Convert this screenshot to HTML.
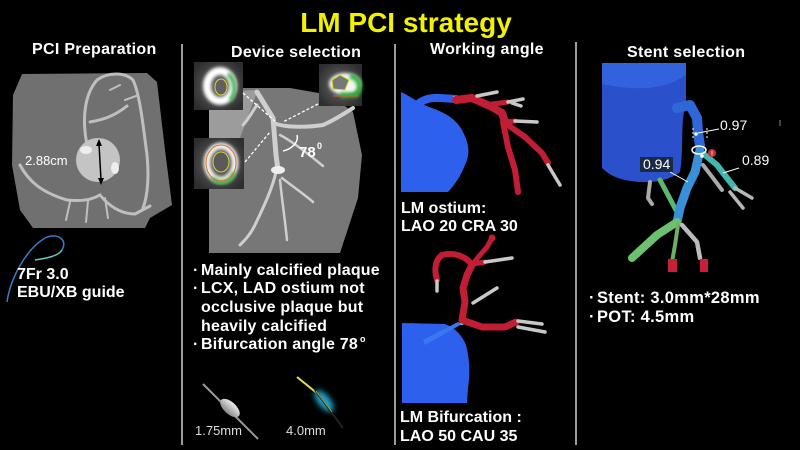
<!DOCTYPE html>
<html><head><meta charset="utf-8"><style>
html,body{margin:0;padding:0;background:#000;}
svg{display:block;}
text{font-family:"Liberation Sans",sans-serif;}
</style></head><body>
<svg width="800" height="450" viewBox="0 0 800 450" xmlns="http://www.w3.org/2000/svg">
<defs>
<filter id="bl" x="-30%" y="-30%" width="160%" height="160%"><feGaussianBlur stdDeviation="1.6"/></filter>
<filter id="bl2" x="-50%" y="-50%" width="200%" height="200%"><feGaussianBlur stdDeviation="3"/></filter>
<radialGradient id="ins" cx="50%" cy="50%" r="60%"><stop offset="0" stop-color="#6a6a6a"/><stop offset="1" stop-color="#2e2e2e"/></radialGradient>
<linearGradient id="bal" x1="0" y1="0" x2="0" y2="1"><stop offset="0" stop-color="#eee"/><stop offset="1" stop-color="#888"/></linearGradient>
</defs>
<rect width="800" height="450" fill="#000"/>

<!-- Title -->
<text x="406" y="32" text-anchor="middle" font-size="28" font-weight="bold" fill="#f2f200">LM PCI strategy</text>

<!-- Headers -->
<g font-size="16" font-weight="bold" fill="#fff" letter-spacing="0.3">
<text x="32" y="54">PCI Preparation</text>
<text x="231" y="57">Device selection</text>
<text x="430" y="54">Working angle</text>
<text x="627" y="57">Stent selection</text>
</g>

<!-- Dividers -->
<line x1="182" y1="44" x2="182" y2="445" stroke="#d0d0d0" stroke-width="1.5"/>
<line x1="395" y1="44" x2="395" y2="445" stroke="#d0d0d0" stroke-width="1.5"/>
<line x1="576" y1="42" x2="576" y2="445" stroke="#d0d0d0" stroke-width="1.5"/>

<!-- Column 1: CT -->
<polygon points="22,74 147,73 157,82 165,150 172,205 150,218 145,228 33,228 20,210 12,165 13,95" fill="#707070"/>
<g fill="none" stroke="#c8c8c8" stroke-width="3" stroke-linecap="round" opacity="0.9">
<path d="M87,145 C82,120 84,95 97,80 C108,72 125,72 133,80 C140,95 143,125 147,155 C149,175 148,195 143,208"/>
<path d="M20,165 C28,180 40,192 67,200 C85,202 95,198 100,195 C108,205 120,214 135,214 L150,206"/>
<path d="M90,122 C100,120 112,118 127,106"/>
<path d="M105,198 L108,218 M88,201 L86,222 M70,202 L66,220" stroke-width="2"/>
<path d="M110,90 L120,85 M125,100 L136,96" stroke-width="2"/>
</g>
<ellipse cx="98" cy="160" rx="22" ry="22" fill="#c4c4c4"/>
<ellipse cx="86" cy="150" rx="6" ry="4" fill="#eee"/>
<ellipse cx="115" cy="168" rx="4" ry="6" fill="#eee"/>
<line x1="99" y1="144" x2="101" y2="180" stroke="#000" stroke-width="1.5"/>
<polygon points="99,139 96,146 102,146" fill="#000"/>
<polygon points="101,185 98,178 104,178" fill="#000"/>
<text x="25" y="165" font-size="13" fill="#fff">2.88cm</text>

<!-- guide wire -->
<path d="M7,302 C10,280 25,250 45,238 C58,232 68,240 62,250" fill="none" stroke="#3a7cc8" stroke-width="1.5"/>
<path d="M62,250 C58,256 48,258 35,260" fill="none" stroke="#6cc8c0" stroke-width="1.5"/>
<text x="17" y="279" font-size="16" font-weight="bold" fill="#fff">7Fr 3.0</text>
<text x="17" y="297" font-size="16" font-weight="bold" fill="#fff">EBU/XB guide</text>

<!-- Column 2: CT -->
<polygon points="209,88 290,88 330,95 353,112 362,155 358,198 340,253 209,253" fill="#777"/>
<path d="M209,92 L258,90 C250,110 245,125 240,138 L209,138 Z" fill="#9c9c9c"/>
<g fill="none" stroke="#cfcfcf" stroke-linecap="round">
<path d="M257,92 L273,118 L276,155 L278,170" stroke-width="5"/>
<path d="M276,124 C290,128 310,127 323,125 C335,120 345,113 353,108" stroke-width="4"/>
<path d="M280,135 C290,140 310,155 323,166" stroke-width="2.5"/>
<path d="M257,105 C252,112 248,120 243,125" stroke-width="3"/>
<path d="M276,172 C272,190 262,210 255,225 C250,235 245,240 240,245" stroke-width="3"/>
<path d="M280,180 C282,200 285,220 287,240" stroke-width="2.5"/>
<path d="M282,178 C292,186 305,195 313,202" stroke-width="2.5"/>
</g>
<ellipse cx="278" cy="170" rx="7" ry="4" fill="#eee"/>
<!-- insets -->
<rect x="194" y="62" width="49" height="48" fill="url(#ins)"/>
<ellipse cx="220" cy="86" rx="13" ry="15" fill="none" stroke="#fff" stroke-width="8" filter="url(#bl)"/>
<path d="M228,74 C236,80 236,95 230,100" fill="none" stroke="#3cb050" stroke-width="4" filter="url(#bl)"/>
<ellipse cx="221" cy="87" rx="6" ry="8" fill="#606060" stroke="#d8d830" stroke-width="1"/>
<rect x="319" y="64" width="43" height="42" fill="url(#ins)"/>
<ellipse cx="345" cy="84" rx="16" ry="11" fill="#f4f4f4" filter="url(#bl)"/>
<path d="M350,76 C360,78 362,88 356,95 L340,95" fill="none" stroke="#30b040" stroke-width="5" filter="url(#bl)"/>
<polygon points="332,80 340,75 349,80 345,90 333,89" fill="#777" stroke="#e0e020" stroke-width="1"/>
<line x1="333" y1="96" x2="358" y2="96" stroke="#d06020" stroke-width="1"/>
<rect x="194" y="138" width="50" height="51" fill="url(#ins)"/>
<ellipse cx="221" cy="163" rx="14" ry="17" fill="none" stroke="#f0f0f0" stroke-width="7" filter="url(#bl)"/>
<path d="M212,178 C220,186 232,182 234,172" fill="none" stroke="#30b040" stroke-width="4" filter="url(#bl)"/>
<ellipse cx="221" cy="163" rx="15" ry="18" fill="none" stroke="#e07020" stroke-width="1"/>
<ellipse cx="221" cy="162" rx="8" ry="10" fill="#5a5a5a" stroke="#d8d830" stroke-width="1"/>
<!-- dashed lines -->
<g stroke="#fff" stroke-width="1.3" stroke-dasharray="3,2" fill="none">
<line x1="243" y1="93" x2="277" y2="123"/>
<line x1="318" y1="104" x2="283" y2="122"/>
<line x1="245" y1="162" x2="270" y2="132"/>
</g>
<path d="M297,135 C299,142 292,149 283,151" fill="none" stroke="#fff" stroke-width="1.5"/>
<text x="299" y="157" font-size="15" font-weight="bold" fill="#fff">78</text>
<text x="317" y="149" font-size="9" font-weight="bold" fill="#fff">0</text>

<!-- bullets col2 -->
<g font-size="16" font-weight="bold" fill="#fff" letter-spacing="0.2">
<text x="193" y="275">·</text><text x="201" y="275">Mainly calcified plaque</text>
<text x="193" y="293">·</text><text x="201" y="293">LCX, LAD ostium not</text>
<text x="201" y="312">occlusive plaque but</text>
<text x="201" y="331">heavily calcified</text>
<text x="193" y="349">·</text><text x="201" y="349">Bifurcation angle 78</text>
</g>
<text x="360" y="342" font-size="9" font-weight="bold" fill="#fff">o</text>

<!-- balloon & stent -->
<line x1="203" y1="384" x2="258" y2="439" stroke="#9a9a9a" stroke-width="2"/>
<ellipse cx="230" cy="408" rx="12" ry="6" transform="rotate(42 230 408)" fill="url(#bal)"/>
<text x="195" y="435" font-size="13" fill="#ddd">1.75mm</text>
<line x1="297" y1="377" x2="318" y2="394" stroke="#e8e040" stroke-width="2"/>
<ellipse cx="324" cy="401" rx="13" ry="6" transform="rotate(50 324 401)" fill="#20a8d0" filter="url(#bl2)"/>
<line x1="315" y1="390" x2="343" y2="428" stroke="#222" stroke-width="2"/>
<line x1="316" y1="391" x2="332" y2="412" stroke="#e8e040" stroke-width="1" opacity="0.7"/>
<text x="286" y="435" font-size="13" fill="#ddd">4.0mm</text>

<!-- Column 3 upper -->
<path d="M401,92 C410,96 420,104 432,108 C445,113 455,118 462,130 C470,145 470,155 465,165 C460,178 452,188 448,192 L401,192 Z" fill="#2d60ec"/>
<path d="M416,106 Q424,97 440,98 L456,99" fill="none" stroke="#2d60ec" stroke-width="8" stroke-linecap="round"/>
<rect x="453" y="96" width="4" height="7" fill="#5cd0d0"/>
<g fill="none" stroke="#c11d35" stroke-linecap="round" stroke-linejoin="round">
<path d="M456,100 L472,98 L492,107 L502,113 L505,122" stroke-width="8"/>
<path d="M503,122 L508,147 L515,170 L518,192" stroke-width="6"/>
<path d="M505,123 L525,137 L542,153 L548,163" stroke-width="6"/>
<path d="M492,104 L508,102" stroke-width="5"/>
<path d="M506,122 L515,121" stroke-width="5"/>
</g>
<g fill="none" stroke="#c8c8c8" stroke-linecap="round" stroke-width="3.5">
<path d="M477,96 L497,92"/>
<path d="M508,102 L523,99 M512,103 L521,106"/>
<path d="M515,121 L537,122"/>
<path d="M548,165 L560,185"/>
</g>
<text x="401" y="213" font-size="16" font-weight="bold" fill="#fff">LM ostium:</text>
<text x="401" y="231" font-size="16" font-weight="bold" fill="#fff">LAO 20 CRA 30</text>

<!-- Column 3 lower -->
<path d="M402,323 L445,324 C455,328 462,335 466,345 C470,360 470,375 468,388 L467,403 L402,403 Z" fill="#2d60ec"/>
<path d="M425,345 L462,324 L458,322 L423,340 Z" fill="#3a78f0"/>
<circle cx="462" cy="323" r="2" fill="#60d8d0"/>
<g fill="none" stroke="#c11d35" stroke-linecap="round" stroke-linejoin="round">
<path d="M462,320 L465,302 L463,288 L467,275 L472,265" stroke-width="7"/>
<path d="M472,265 C465,255 452,252 442,255 C435,260 434,270 437,280" stroke-width="6"/>
<path d="M472,265 L480,255 L487,247 L492,238" stroke-width="5"/>
<path d="M473,264 L485,262" stroke-width="5"/>
<path d="M462,320 L482,327 L505,327 L516,322" stroke-width="7"/>
</g>
<circle cx="492" cy="238" r="3.5" fill="#c11d35"/>
<g fill="none" stroke="#c8c8c8" stroke-linecap="round" stroke-width="3.5">
<path d="M437,281 L437,291"/>
<path d="M485,262 L512,258"/>
<path d="M473,303 L497,288"/>
<path d="M518,321 L542,324"/>
<path d="M518,327 L545,332"/>
</g>
<text x="400" y="422" font-size="16" font-weight="bold" fill="#fff">LM Bifurcation :</text>
<text x="400" y="441" font-size="16" font-weight="bold" fill="#fff">LAO 50 CAU 35</text>

<!-- Column 4 -->
<path d="M602,63 L686,63 L686,105 C680,120 684,150 680,172 C670,180 655,183 640,182 C625,181 612,178 602,168 Z" fill="#2a50cc"/>
<path d="M602,63 L686,63 L686,74 C665,92 630,90 602,84 Z" fill="#3262de"/>
<g fill="none" stroke-linecap="round" stroke-linejoin="round">
<path d="M660,180 L668,195 L677,212" stroke="#5cb870" stroke-width="5"/>
<path d="M650,182 L648,198 L652,204" stroke="#aaa" stroke-width="4"/>
<path d="M703,165 L713,178 L722,190" stroke="#aaa" stroke-width="4"/>
<path d="M705,155 L717,165 L727,178 L735,188" stroke="#40b8b0" stroke-width="6"/>
<path d="M735,188 L752,198 M730,192 L743,208" stroke="#b8b8b8" stroke-width="3.5"/>
<path d="M677,108 L690,105 L697,118 L698,132 L700,146" stroke="#2f66d8" stroke-width="10"/>
<path d="M700,150 L695,172 L687,188 L680,208 L677,222" stroke="#3a90d8" stroke-width="9"/>
<path d="M677,222 L657,235 L632,258" stroke="#6cc070" stroke-width="8"/>
<path d="M678,225 L675,245 L672,262" stroke="#6cb060" stroke-width="4"/>
<path d="M682,225 L697,242 L700,258" stroke="#bbb" stroke-width="4.5"/>
</g>
<rect x="668" y="259" width="9" height="13" fill="#c8203a"/>
<rect x="700" y="259" width="8" height="13" fill="#c8203a"/>
<path d="M693,128 L693,138 M707,128 L707,138" stroke="#fff" stroke-width="1" stroke-dasharray="2,2"/>
<circle cx="696" cy="134" r="1.8" fill="#fff"/>
<ellipse cx="699" cy="150" rx="7" ry="4" fill="none" stroke="#fff" stroke-width="1.5"/>
<circle cx="702" cy="156" r="1.8" fill="#fff"/>
<circle cx="712" cy="153" r="4" fill="#c8303a"/>
<text x="712" y="155.5" font-size="6" font-weight="bold" fill="#fff" text-anchor="middle">!</text>
<g stroke="#fff" stroke-width="1">
<line x1="698" y1="133" x2="719" y2="129"/>
<line x1="723" y1="173" x2="739" y2="168"/>
<line x1="670" y1="172" x2="688" y2="182"/>
</g>
<text x="720" y="130" font-size="14" fill="#fff">0.97</text>
<text x="742" y="165" font-size="14" fill="#fff">0.89</text>
<rect x="640" y="157" width="33" height="15" fill="#1b2a44"/>
<text x="643" y="169" font-size="14" fill="#fff">0.94</text>
<line x1="780" y1="120" x2="780" y2="126" stroke="#888" stroke-width="1"/>

<g font-size="16.5" font-weight="bold" fill="#fff" letter-spacing="0.3">
<text x="589" y="303">·</text>
<text x="597" y="303">Stent: 3.0mm*28mm</text>
<text x="589" y="322">·</text>
<text x="597" y="322">POT: 4.5mm</text>
</g>
</svg>
</body></html>
